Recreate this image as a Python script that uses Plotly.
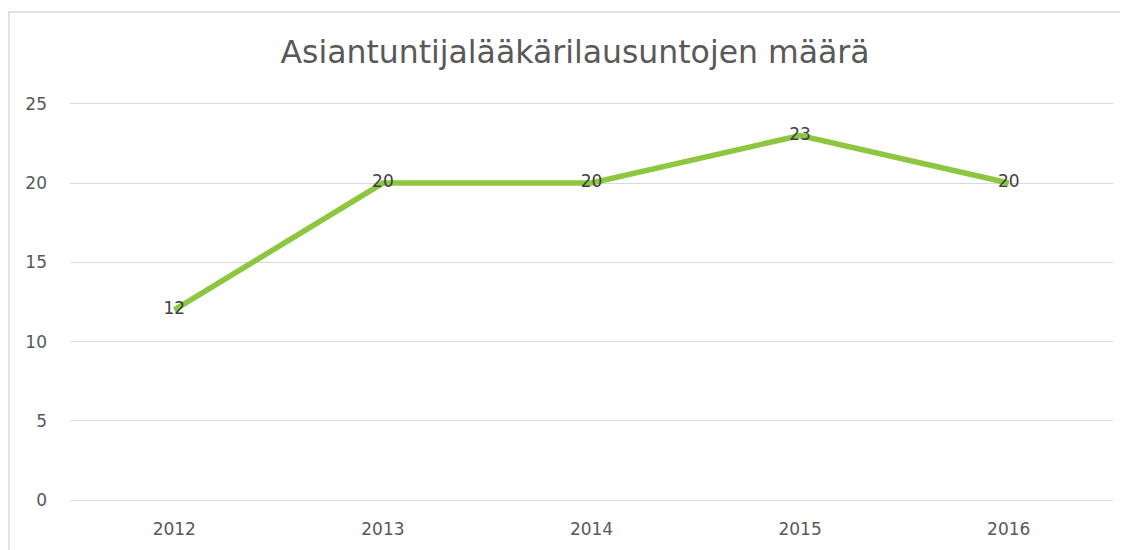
import plotly.graph_objects as go

years = ["2012", "2013", "2014", "2015", "2016"]
counts = [12, 20, 20, 23, 20]
title_text = "Asiantuntijalääkärilausuntojen määrä"
y_ticks = [0, 5, 10, 15, 20, 25]

# page body has an 8px margin, so the figure is laid out 8px up/left of the window
W, H = 1120, 542
L, T, R, B = 62, 91, 15, 45
pw, ph = W - L - R, H - T - B

fig = go.Figure()
fig.add_trace(go.Scatter(
    x=years, y=counts, mode="lines+text",
    line=dict(color="#8dc63f", width=5.5),
    text=[str(v) for v in counts], textposition="middle center",
    textfont=dict(family="DejaVu Sans", size=17, color="#404040"),
    cliponaxis=False, hoverinfo="skip"))

fig.update_layout(
    width=W, height=H,
    margin=dict(l=L, r=R, t=T, b=B),
    paper_bgcolor="white", plot_bgcolor="white",
    showlegend=False,
    title=dict(text=title_text, x=567 / W, xanchor="center",
               y=1 - 44 / H, yanchor="middle",
               font=dict(family="DejaVu Sans", size=31.5, color="#595959")),
    xaxis=dict(type="category", range=[-0.5, 4.5], showgrid=False, zeroline=False,
               showline=False, ticks="",
               tickfont=dict(family="DejaVu Sans", size=17, color="#595959"),
               ticklabelstandoff=12),
    yaxis=dict(range=[-0.3, 25.3], tickvals=y_ticks, showgrid=True, gridcolor="#d9d9d9",
               gridwidth=1.3, zeroline=False, showline=False, ticks="",
               tickfont=dict(family="DejaVu Sans", size=17, color="#595959"),
               ticklabelstandoff=22),
    shapes=[dict(type="rect", xref="paper", yref="paper",
                 x0=(1 - L) / pw, x1=(W + 20 - L) / pw,
                 y0=(T + ph - (H + 20)) / ph, y1=(T + ph - 4) / ph,
                 line=dict(color="#d9d9d9", width=1.5), fillcolor="rgba(0,0,0,0)",
                 layer="below")],
)

fig.write_html("out.html")
